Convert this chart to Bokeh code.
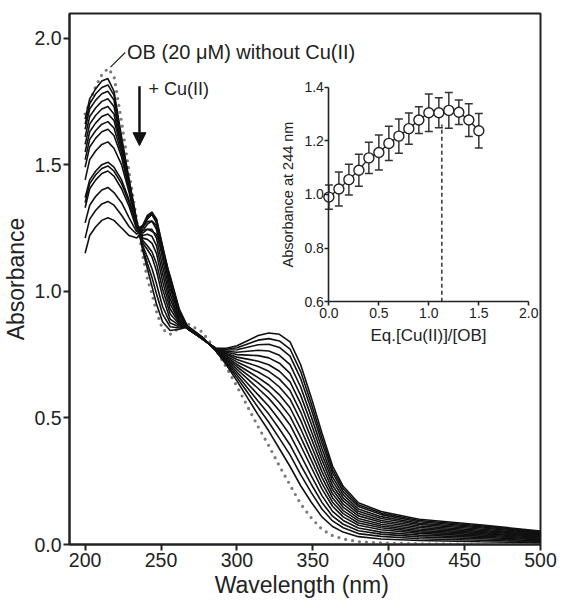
from bokeh.plotting import figure
from bokeh.models import (Range1d, LinearAxis, FixedTicker, Arrow, NormalHead)
from bokeh.core.properties import value
from bokeh.embed import file_html
from bokeh.resources import INLINE

# ---------------- data ----------------
wavelength = [200, 203, 207, 211, 215, 219, 224, 229, 234, 238, 241, 244, 247, 251, 256,
              262, 268, 277, 286, 293, 300, 307, 314, 321, 328, 335, 342, 349, 356, 363,
              370, 380, 395, 420, 460, 500]

# OB alone (0 eq Cu(II)), dotted curve
abs_ob = [1.70, 1.745, 1.81, 1.855, 1.88, 1.85, 1.67, 1.47, 1.28, 1.14, 1.05, 0.99, 0.92, 0.85, 0.83,
          0.855, 0.87, 0.84, 0.77, 0.70, 0.625, 0.545, 0.465, 0.39, 0.31, 0.235, 0.16, 0.105, 0.06, 0.035,
          0.022, 0.011, 0.006, 0.003, 0.001, 0.0]
# titration spectra, 0.1 ... 1.5 eq Cu(II)
abs_01 = [1.68, 1.76, 1.80, 1.83, 1.84, 1.79, 1.61, 1.44, 1.28, 1.16, 1.09, 1.02, 0.95, 0.88, 0.845,
          0.85, 0.86, 0.82, 0.765, 0.710, 0.646, 0.579, 0.512, 0.448, 0.378, 0.308, 0.232, 0.167, 0.109, 0.071,
          0.049, 0.031, 0.022, 0.016, 0.011, 0.007]
abs_02 = [1.66, 1.74, 1.78, 1.805, 1.815, 1.775, 1.60, 1.435, 1.275, 1.17, 1.11, 1.055, 0.99, 0.91, 0.86,
          0.855, 0.86, 0.82, 0.766, 0.716, 0.659, 0.600, 0.541, 0.483, 0.419, 0.354, 0.276, 0.205, 0.140, 0.093,
          0.066, 0.043, 0.032, 0.023, 0.017, 0.011]
abs_03 = [1.64, 1.72, 1.755, 1.78, 1.79, 1.755, 1.59, 1.43, 1.27, 1.18, 1.135, 1.09, 1.03, 0.94, 0.875,
          0.86, 0.855, 0.818, 0.767, 0.721, 0.670, 0.618, 0.566, 0.515, 0.456, 0.393, 0.314, 0.238, 0.166, 0.112,
          0.080, 0.054, 0.041, 0.030, 0.023, 0.015]
abs_04 = [1.61, 1.69, 1.725, 1.75, 1.76, 1.73, 1.58, 1.425, 1.27, 1.19, 1.165, 1.136, 1.08, 0.98, 0.89,
          0.865, 0.855, 0.818, 0.768, 0.726, 0.681, 0.636, 0.591, 0.546, 0.492, 0.433, 0.353, 0.271, 0.193, 0.131,
          0.095, 0.065, 0.049, 0.037, 0.028, 0.019]
abs_05 = [1.58, 1.66, 1.695, 1.72, 1.73, 1.70, 1.57, 1.42, 1.265, 1.20, 1.18, 1.156, 1.11, 1.01, 0.91,
          0.87, 0.855, 0.816, 0.769, 0.732, 0.692, 0.654, 0.616, 0.577, 0.528, 0.472, 0.391, 0.305, 0.220, 0.151,
          0.109, 0.076, 0.058, 0.044, 0.033, 0.022]
abs_06 = [1.55, 1.63, 1.665, 1.69, 1.70, 1.675, 1.56, 1.415, 1.265, 1.21, 1.205, 1.19, 1.15, 1.04, 0.93,
          0.875, 0.85, 0.816, 0.770, 0.736, 0.702, 0.670, 0.638, 0.604, 0.560, 0.506, 0.424, 0.333, 0.242, 0.167,
          0.122, 0.085, 0.066, 0.050, 0.038, 0.025]
abs_07 = [1.52, 1.60, 1.635, 1.66, 1.67, 1.645, 1.545, 1.41, 1.26, 1.22, 1.225, 1.217, 1.18, 1.07, 0.95,
          0.88, 0.85, 0.815, 0.771, 0.741, 0.711, 0.685, 0.659, 0.630, 0.591, 0.540, 0.457, 0.362, 0.265, 0.184,
          0.134, 0.094, 0.073, 0.055, 0.043, 0.029]
abs_08 = [1.49, 1.57, 1.605, 1.63, 1.64, 1.615, 1.53, 1.40, 1.26, 1.23, 1.245, 1.245, 1.21, 1.10, 0.97,
          0.885, 0.85, 0.815, 0.772, 0.745, 0.721, 0.701, 0.681, 0.657, 0.622, 0.574, 0.490, 0.390, 0.288, 0.200,
          0.147, 0.103, 0.080, 0.061, 0.047, 0.032]
abs_09 = [1.44, 1.52, 1.555, 1.58, 1.59, 1.565, 1.50, 1.39, 1.255, 1.24, 1.265, 1.277, 1.245, 1.13, 0.99,
          0.89, 0.85, 0.814, 0.772, 0.750, 0.731, 0.717, 0.703, 0.684, 0.653, 0.608, 0.523, 0.419, 0.311, 0.217,
          0.159, 0.113, 0.088, 0.067, 0.052, 0.035]
abs_10 = [1.37, 1.44, 1.475, 1.50, 1.51, 1.49, 1.44, 1.36, 1.255, 1.25, 1.285, 1.304, 1.27, 1.155, 1.01,
          0.90, 0.85, 0.814, 0.773, 0.754, 0.740, 0.732, 0.724, 0.710, 0.684, 0.642, 0.556, 0.447, 0.334, 0.233,
          0.172, 0.122, 0.095, 0.073, 0.056, 0.038]
abs_11 = [1.35, 1.425, 1.46, 1.485, 1.495, 1.475, 1.425, 1.35, 1.25, 1.255, 1.29, 1.304, 1.275, 1.165, 1.025,
          0.905, 0.85, 0.813, 0.773, 0.759, 0.750, 0.748, 0.746, 0.737, 0.716, 0.676, 0.589, 0.476, 0.356, 0.250,
          0.184, 0.131, 0.103, 0.079, 0.061, 0.041]
abs_12 = [1.33, 1.405, 1.44, 1.465, 1.475, 1.455, 1.405, 1.335, 1.245, 1.26, 1.30, 1.313, 1.285, 1.175, 1.04,
          0.91, 0.85, 0.813, 0.774, 0.763, 0.759, 0.763, 0.767, 0.764, 0.747, 0.710, 0.622, 0.504, 0.379, 0.266,
          0.197, 0.140, 0.110, 0.084, 0.066, 0.045]
abs_13 = [1.27, 1.34, 1.375, 1.40, 1.41, 1.39, 1.35, 1.29, 1.235, 1.26, 1.295, 1.306, 1.285, 1.18, 1.05,
          0.92, 0.85, 0.812, 0.774, 0.768, 0.769, 0.779, 0.789, 0.791, 0.778, 0.744, 0.655, 0.533, 0.402, 0.283,
          0.209, 0.150, 0.118, 0.090, 0.070, 0.048]
abs_14 = [1.21, 1.285, 1.32, 1.345, 1.355, 1.34, 1.30, 1.255, 1.225, 1.255, 1.275, 1.277, 1.26, 1.17, 1.055,
          0.925, 0.855, 0.812, 0.775, 0.771, 0.777, 0.792, 0.807, 0.813, 0.804, 0.772, 0.683, 0.556, 0.421, 0.296,
          0.220, 0.157, 0.124, 0.095, 0.074, 0.050]
abs_15 = [1.15, 1.22, 1.255, 1.28, 1.29, 1.28, 1.25, 1.22, 1.21, 1.24, 1.245, 1.237, 1.225, 1.15, 1.06,
          0.93, 0.855, 0.812, 0.775, 0.775, 0.785, 0.805, 0.825, 0.835, 0.83, 0.80, 0.71, 0.58, 0.44, 0.31,
          0.23, 0.165, 0.13, 0.10, 0.078, 0.053]

# inset: absorbance at 244 nm vs equivalents of Cu(II)
eq_cu = [0.0, 0.1, 0.2, 0.3, 0.4, 0.5, 0.6, 0.7, 0.8, 0.9, 1.0, 1.1, 1.2, 1.3, 1.4, 1.5]
abs_244 = [0.99, 1.02, 1.055, 1.09, 1.136, 1.156, 1.19, 1.217, 1.245, 1.277, 1.304, 1.304, 1.313, 1.306, 1.277, 1.237]
abs_244_err = [0.045, 0.063, 0.057, 0.06, 0.058, 0.065, 0.064, 0.064, 0.058, 0.05, 0.07, 0.056, 0.067, 0.046, 0.061, 0.064]
stoich_eq = 1.13        # dashed marker of the break point
stoich_abs = 1.26

x_ticks = [200, 250, 300, 350, 400, 450, 500]
y_ticks = [0.0, 0.5, 1.0, 1.5, 2.0]
y_tick_labels = ["0.0", "0.5", "1.0", "1.5", "2.0"]
inset_x_ticks = [0.0, 0.5, 1.0, 1.5, 2.0]
inset_x_labels = ["0.0", "0.5", "1.0", "1.5", "2.0"]
inset_y_ticks = [0.6, 0.8, 1.0, 1.2, 1.4]
inset_y_labels = ["0.6", "0.8", "1.0", "1.2", "1.4"]

# annotations (data coordinates)
ob_label = "OB (20 \u03bcM) without Cu(II)"
ob_leader = (216.7, 1.885, 226.4, 1.943)
cu_label = "+ Cu(II)"
cu_label_pos = (241.8, 1.80)
arrow_pos = (235.8, 1.81, 1.575)

FONT = "Liberation Sans"
TXT = "#222222"

p = figure(width=557, height=600, x_range=Range1d(189.7, 500), y_range=Range1d(0, 2.097),
           output_backend="svg", toolbar_location=None,
           min_border_left=69, min_border_right=17, min_border_top=13, min_border_bottom=53)
p.background_fill_color = "white"
p.border_fill_color = "white"
p.xgrid.visible = False
p.ygrid.visible = False
p.outline_line_color = "#222222"
p.outline_line_width = 2

p.extra_x_ranges = {"ix": Range1d(-2.595, 2.117)}
p.extra_y_ranges = {"iy": Range1d(-0.3045, 1.674)}

for ax in (p.xaxis[0], p.yaxis[0]):
    ax.axis_line_color = "#222222"
    ax.axis_line_width = 2
    ax.major_tick_line_color = "#222222"
    ax.major_tick_line_width = 2
    ax.major_tick_out = 6
    ax.major_tick_in = 0
    ax.minor_tick_out = 0
    ax.minor_tick_in = 0
    ax.major_label_text_font = FONT
    ax.major_label_text_font_size = "19.5px"
    ax.major_label_text_color = TXT
    ax.major_label_standoff = 2
    ax.axis_label_text_font = FONT
    ax.axis_label_text_font_size = "23px"
    ax.axis_label_text_font_style = "normal"
    ax.axis_label_text_color = TXT

p.xaxis[0].ticker = FixedTicker(ticks=x_ticks)
p.xaxis[0].axis_label = "Wavelength  (nm)"
p.xaxis[0].axis_label_standoff = 2
p.yaxis[0].ticker = FixedTicker(ticks=y_ticks)
p.yaxis[0].major_label_overrides = dict(zip(y_ticks, y_tick_labels))
p.yaxis[0].axis_label = "Absorbance"
p.yaxis[0].axis_label_standoff = 2

# spectra
p.line(wavelength, abs_ob, line_color="#7a7a7a", line_width=3.2, line_dash="0 7", line_cap="round")
for series in (abs_01, abs_02, abs_03, abs_04, abs_05, abs_06, abs_07, abs_08,
               abs_09, abs_10, abs_11, abs_12, abs_13, abs_14, abs_15):
    p.line(wavelength, series, line_color="#111111", line_width=1.6)

# annotations
p.segment(x0=[ob_leader[0]], y0=[ob_leader[1]], x1=[ob_leader[2]], y1=[ob_leader[3]],
          line_color="#222222", line_width=1.2)
p.text(x=[ob_leader[2] + 1.2], y=[ob_leader[3]], text=[ob_label], text_baseline="middle",
       text_font=value(FONT), text_font_size="20px", text_color=TXT)
p.text(x=[cu_label_pos[0]], y=[cu_label_pos[1]], text=[cu_label], text_baseline="middle",
       text_font=value(FONT), text_font_size="18px", text_color=TXT)
p.add_layout(Arrow(x_start=arrow_pos[0], y_start=arrow_pos[1], x_end=arrow_pos[0], y_end=arrow_pos[2],
                   line_width=2.5, line_color="#111111",
                   end=NormalHead(size=13, fill_color="#111111", line_color="#111111")))

# ---------------- inset ----------------
iy_axis = LinearAxis(x_range_name="ix", y_range_name="iy", fixed_location=0.0, bounds=(0.6, 1.4),
                     ticker=FixedTicker(ticks=inset_y_ticks), axis_label="Absorbance at 244 nm")
iy_axis.major_label_overrides = dict(zip(inset_y_ticks, inset_y_labels))
ix_axis = LinearAxis(x_range_name="ix", y_range_name="iy", fixed_location=0.6, bounds=(0.0, 2.0),
                     ticker=FixedTicker(ticks=inset_x_ticks), axis_label="Eq.[Cu(II)]/[OB]")
ix_axis.major_label_overrides = dict(zip(inset_x_ticks, inset_x_labels))
for ax in (iy_axis, ix_axis):
    ax.axis_line_color = "#222222"
    ax.axis_line_width = 1.6
    ax.major_tick_line_color = "#222222"
    ax.major_tick_line_width = 1.6
    ax.major_tick_out = 4
    ax.major_tick_in = 0
    ax.minor_tick_out = 0
    ax.minor_tick_in = 0
    ax.major_label_text_font = FONT
    ax.major_label_text_font_size = "14px"
    ax.major_label_text_color = TXT
    ax.axis_label_text_font = FONT
    ax.axis_label_text_font_style = "normal"
    ax.axis_label_text_color = TXT
iy_axis.axis_label_text_font_size = "14.5px"
ix_axis.axis_label_text_font_size = "17px"
iy_axis.major_label_standoff = 1
iy_axis.axis_label_standoff = 5
ix_axis.major_label_standoff = 2
ix_axis.axis_label_standoff = 5
p.add_layout(iy_axis, "left")
p.add_layout(ix_axis, "below")

upper = [a + e for a, e in zip(abs_244, abs_244_err)]
lower = [a - e for a, e in zip(abs_244, abs_244_err)]
p.segment(x0=[stoich_eq], y0=[inset_y_ticks[0]], x1=[stoich_eq], y1=[stoich_abs],
          x_range_name="ix", y_range_name="iy", line_color="#333333", line_width=1.5, line_dash="4 3")
p.segment(x0=eq_cu, y0=lower, x1=eq_cu, y1=upper, x_range_name="ix", y_range_name="iy",
          line_color="#333333", line_width=1.5)
p.scatter(eq_cu, upper, marker="dash", size=8, line_color="#333333", line_width=1.5,
          x_range_name="ix", y_range_name="iy")
p.scatter(eq_cu, lower, marker="dash", size=8, line_color="#333333", line_width=1.5,
          x_range_name="ix", y_range_name="iy")
p.line(eq_cu, abs_244, line_color="#222222", line_width=1.3, x_range_name="ix", y_range_name="iy")
p.scatter(eq_cu, abs_244, marker="circle", size=10, fill_color="white", line_color="#222222",
          line_width=1.4, x_range_name="ix", y_range_name="iy")

open("out.html", "w").write(file_html(p, INLINE))
